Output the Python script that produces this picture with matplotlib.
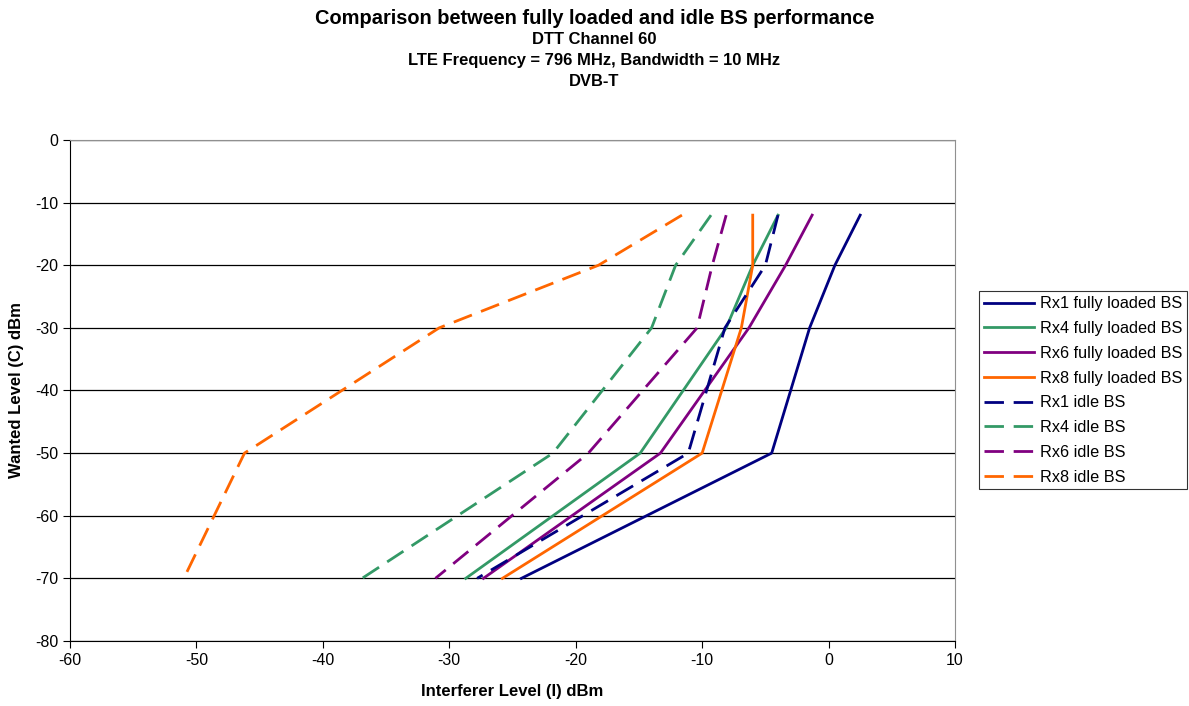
import matplotlib
matplotlib.use("Agg")
import matplotlib.pyplot as plt

plt.rcParams['font.family'] = ['Liberation Sans', 'DejaVu Sans']
plt.rcParams['axes.unicode_minus'] = False

# wanted level (C) dBm, same for every series
wanted = [-12, -20, -30, -50, -70]

# interferer level (I) dBm
rx1_full = [2.5, 0.5, -1.5, -4.5, -24.3]
rx4_full = [-4.0, -6.0, -8.1, -14.9, -28.7]
rx6_full = [-1.3, -3.4, -6.3, -13.3, -27.3]
rx8_full = [-6.0, -6.0, -6.9, -10.0, -25.8]
rx1_idle = [-4.0, -5.0, -8.2, -11.1, -27.8]
rx4_idle = [-9.3, -12.1, -14.0, -21.8, -36.9]
rx6_idle = [-8.1, -9.2, -10.4, -19.0, -31.1]
rx8_idle = [-11.6, -18.2, -30.8, -46.2, -51.0]

labels = ["Rx1 fully loaded BS", "Rx4 fully loaded BS", "Rx6 fully loaded BS",
          "Rx8 fully loaded BS", "Rx1 idle BS", "Rx4 idle BS", "Rx6 idle BS",
          "Rx8 idle BS"]
series = [rx1_full, rx4_full, rx6_full, rx8_full,
          rx1_idle, rx4_idle, rx6_idle, rx8_idle]
colors = ['#000080', '#339966', '#800080', '#FF6600'] * 2

fig = plt.figure(figsize=(11.89, 7.06), dpi=100)
ax = fig.add_axes([0.0589, 0.0921, 0.7443, 0.7096])

for i, (lab, xs) in enumerate(zip(labels, series)):
    ls = '-' if i < 4 else (0, (7, 3.5))
    ax.plot(xs, wanted, color=colors[i], lw=2.0, linestyle=ls, label=lab)

ax.set_xlim(-60, 10)
ax.set_ylim(-80, 0)
ax.set_xticks(range(-60, 11, 10))
ax.set_yticks(range(-80, 1, 10))
ax.yaxis.grid(True, color='black', lw=0.9)
ax.set_axisbelow(True)
ax.tick_params(labelsize=11.5, length=5, direction='out', width=0.8)
for s in ['top', 'right']:
    ax.spines[s].set_color('#909090')
for s in ['left', 'bottom']:
    ax.spines[s].set_color('black')

ax.set_xlabel("Interferer Level (I) dBm", fontsize=12, fontweight='bold', labelpad=12)
ax.set_ylabel("Wanted Level (C) dBm", fontsize=12, fontweight='bold', labelpad=8)

fig.text(0.50, 0.974, "Comparison between fully loaded and idle BS performance",
         ha='center', va='center', fontsize=14.4, fontweight='bold')
fig.text(0.50, 0.944, "DTT Channel 60", ha='center', va='center', fontsize=11.9, fontweight='bold')
fig.text(0.50, 0.914, "LTE Frequency = 796 MHz, Bandwidth = 10 MHz", ha='center', va='center',
         fontsize=11.9, fontweight='bold')
fig.text(0.50, 0.884, "DVB-T", ha='center', va='center', fontsize=11.9, fontweight='bold')

leg = ax.legend(loc='center left', bbox_to_anchor=(1.027, 0.5), fontsize=11.7,
                frameon=True, fancybox=False, edgecolor='black', handlelength=3.1,
                handletextpad=0.36, borderpad=0.3, labelspacing=0.6, borderaxespad=0)
leg.get_frame().set_linewidth(0.8)

fig.savefig("out.png", dpi=100)
